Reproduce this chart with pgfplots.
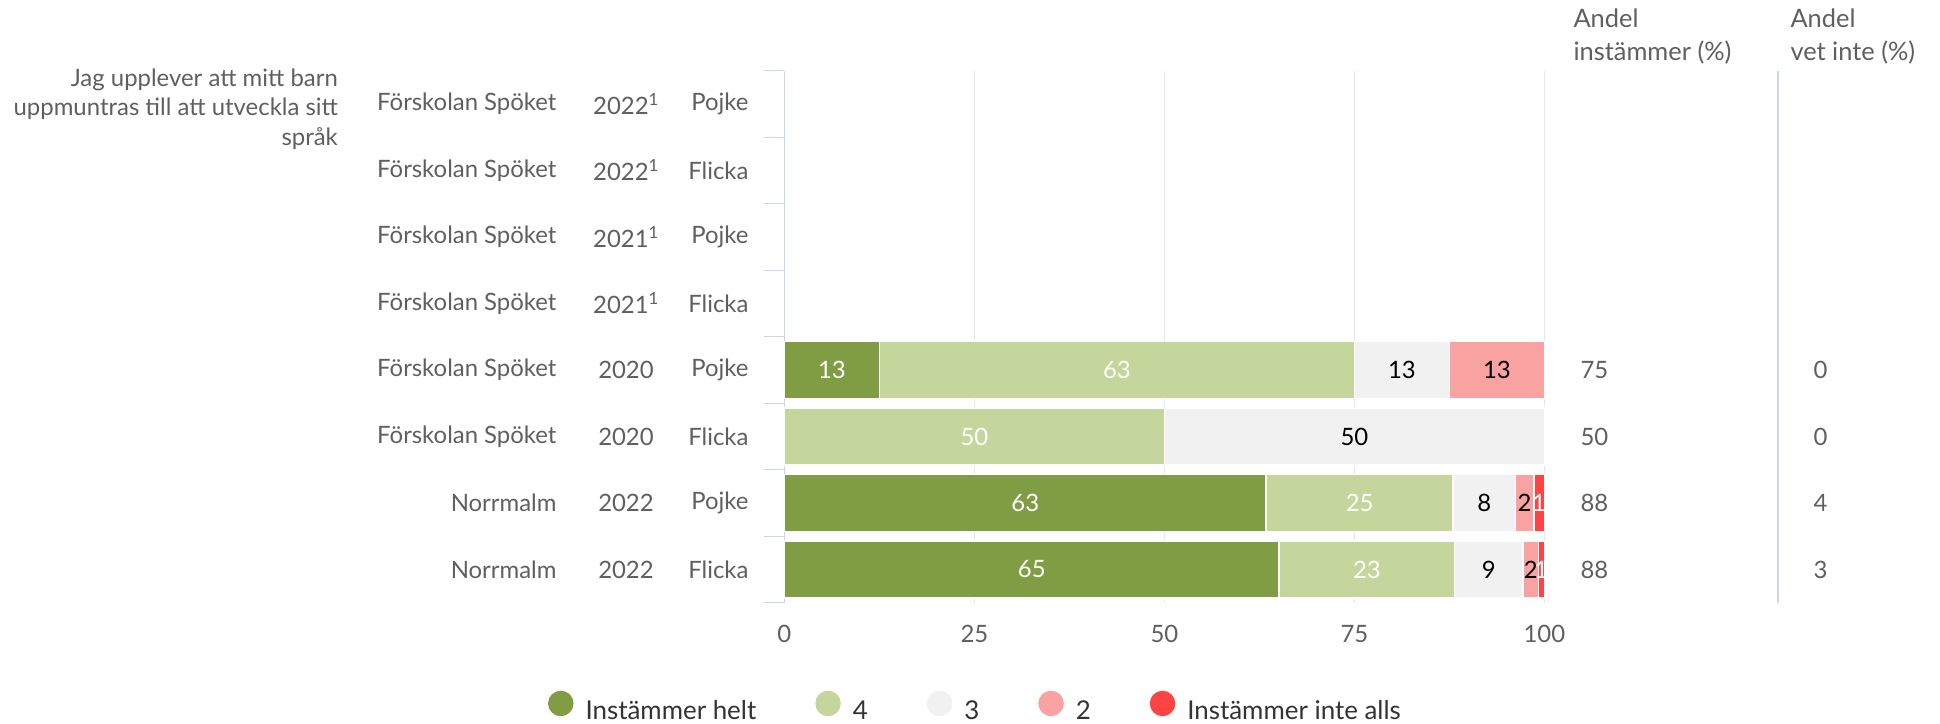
\documentclass[border=0pt]{standalone}
\usepackage{fontspec}
\setmainfont{Lato}
\usepackage{pgfplots}
\pgfplotsset{compat=1.18}
\definecolor{cA}{HTML}{819D43}
\definecolor{cB}{HTML}{C4D69C}
\definecolor{cC}{HTML}{F1F1F1}
\definecolor{cD}{HTML}{F9A2A2}
\definecolor{cE}{HTML}{FF4343}
\definecolor{axblue}{HTML}{CCD6EB}
\definecolor{gridc}{HTML}{E6E6E6}
\definecolor{txt}{HTML}{5F5F5F}
\definecolor{legtxt}{HTML}{333333}
\definecolor{zerogray}{HTML}{C4C4C4}
\newcommand{\fs}{\fontsize{24}{29.7}\selectfont}
\begin{document}
\begin{tikzpicture}
\path[use as bounding box] (0bp,0bp) rectangle (1940bp,-724bp);
\begin{axis}[
  at={(784.4bp,-602.7bp)}, anchor=south west,
  scale only axis, width=760bp, height=532bp,
  xbar stacked, bar width=57bp,
  xmin=0, xmax=100, ymin=0.5, ymax=8.5,
  axis lines=left, axis line style={-},
  x axis line style={draw=none},
  y axis line style={draw=axblue, line width=1.3bp},
  xtick={0,25,50,75,100},
  xmajorgrids, grid style={draw=gridc, line width=1.3bp},
  ytick={0.5,1.5,2.5,3.5,4.5,5.5,6.5,7.5,8.5}, yticklabels={},
  tick align=outside, major tick length=20bp,
  ytick style={draw=axblue, line width=1.3bp},
  xtick style={draw=none},
  xticklabel style={font=\fs, text=txt, anchor=center, yshift=-11.5bp},
  /pgf/number format/assume math mode=true,
  clip=false,
  visualization depends on={value \thisrow{l} \as \lab},
  nodes near coords={\ifnum\lab=0 \textcolor{zerogray}{0}\else\lab\fi},
  every node near coord/.append style={anchor=center, font=\fs},
  legend columns=5,
  legend style={draw=none, fill=none, inner sep=0pt, outer sep=0pt,
    at={(-0.311,-0.1960)}, anchor=west, font=\fontsize{26}{30}\selectfont, text=legtxt,
    /tikz/every odd column/.append style={column sep=10bp},
    /tikz/every even column/.append style={column sep=57bp},
    /tikz/column 2/.append style={column sep=50bp}},
]
\addplot[fill=cA, draw=white, line width=1.5bp, every node near coord/.append style={text=white},
  legend image code/.code={\fill[cA] (12bp,7.5bp) circle (12bp);}]
  table[x=v, y=r] {
r v l
4 12.5 13
3 0 0
2 63.4 63
1 65.1 65
};
\addlegendentry{Instämmer helt}
\addplot[fill=cB, draw=white, line width=1.5bp, every node near coord/.append style={text=white},
  legend image code/.code={\fill[cB] (12bp,7.5bp) circle (12bp);}]
  table[x=v, y=r] {
r v l
4 62.5 63
3 50 50
2 24.6 25
1 23.1 23
};
\addlegendentry{4}
\addplot[fill=cC, draw=white, line width=1.5bp, every node near coord/.append style={text=black},
  legend image code/.code={\fill[cC] (12bp,7.5bp) circle (12bp);}]
  table[x=v, y=r] {
r v l
4 12.5 13
3 50 50
2 8.2 8
1 9.0 9
};
\addlegendentry{3}
\addplot[fill=cD, draw=white, line width=1.5bp, every node near coord/.append style={text=black},
  legend image code/.code={\fill[cD] (12bp,7.5bp) circle (12bp);}]
  table[x=v, y=r] {
r v l
4 12.5 13
3 0 0
2 2.4 2
1 2.0 2
};
\addlegendentry{2}
\addplot[fill=cE, draw=white, line width=1.5bp, every node near coord/.append style={text=white},
  legend image code/.code={\fill[cE] (12bp,7.5bp) circle (12bp);}]
  table[x=v, y=r] {
r v l
4 0 0
3 0 0
2 1.4 1
1 0.8 1
};
\addlegendentry{Instämmer inte alls}

% question text
\node[anchor=east, align=right, text=txt, font=\fs, xshift=-443bp, yshift=-5bp] at (axis cs:0,8) {Jag upplever att mitt barn\\uppmuntras till att utveckla sitt\\språk};
% school names
\node[anchor=east, text=txt, font=\fs, xshift=-224.4bp] at (axis cs:0,8) {Förskolan Spöket};
\node[anchor=east, text=txt, font=\fs, xshift=-224.4bp] at (axis cs:0,7) {Förskolan Spöket};
\node[anchor=east, text=txt, font=\fs, xshift=-224.4bp] at (axis cs:0,6) {Förskolan Spöket};
\node[anchor=east, text=txt, font=\fs, xshift=-224.4bp] at (axis cs:0,5) {Förskolan Spöket};
\node[anchor=east, text=txt, font=\fs, xshift=-224.4bp] at (axis cs:0,4) {Förskolan Spöket};
\node[anchor=east, text=txt, font=\fs, xshift=-224.4bp] at (axis cs:0,3) {Förskolan Spöket};
\node[anchor=east, text=txt, font=\fs, xshift=-224.4bp] at (axis cs:0,2) {Norrmalm};
\node[anchor=east, text=txt, font=\fs, xshift=-224.4bp] at (axis cs:0,1) {Norrmalm};
% years
\node[text=txt, font=\fs, xshift=-158.4bp] at (axis cs:0,8) {2022\textsuperscript{1}};
\node[text=txt, font=\fs, xshift=-158.4bp] at (axis cs:0,7) {2022\textsuperscript{1}};
\node[text=txt, font=\fs, xshift=-158.4bp] at (axis cs:0,6) {2021\textsuperscript{1}};
\node[text=txt, font=\fs, xshift=-158.4bp] at (axis cs:0,5) {2021\textsuperscript{1}};
\node[text=txt, font=\fs, xshift=-158.4bp] at (axis cs:0,4) {2020};
\node[text=txt, font=\fs, xshift=-158.4bp] at (axis cs:0,3) {2020};
\node[text=txt, font=\fs, xshift=-158.4bp] at (axis cs:0,2) {2022};
\node[text=txt, font=\fs, xshift=-158.4bp] at (axis cs:0,1) {2022};
% gender
\node[anchor=east, text=txt, font=\fs, xshift=-32.4bp] at (axis cs:0,8) {Pojke};
\node[anchor=east, text=txt, font=\fs, xshift=-32.4bp] at (axis cs:0,7) {Flicka};
\node[anchor=east, text=txt, font=\fs, xshift=-32.4bp] at (axis cs:0,6) {Pojke};
\node[anchor=east, text=txt, font=\fs, xshift=-32.4bp] at (axis cs:0,5) {Flicka};
\node[anchor=east, text=txt, font=\fs, xshift=-32.4bp] at (axis cs:0,4) {Pojke};
\node[anchor=east, text=txt, font=\fs, xshift=-32.4bp] at (axis cs:0,3) {Flicka};
\node[anchor=east, text=txt, font=\fs, xshift=-32.4bp] at (axis cs:0,2) {Pojke};
\node[anchor=east, text=txt, font=\fs, xshift=-32.4bp] at (axis cs:0,1) {Flicka};
% headers
\node[anchor=west, align=left, text=txt, font=\fontsize{25.5}{33}\selectfont, xshift=25.6bp, yshift=34.2bp] at (axis cs:100,8.5) {Andel\\instämmer (\%)};
\node[anchor=west, align=left, text=txt, font=\fontsize{25.5}{33}\selectfont, xshift=242.6bp, yshift=34.2bp] at (axis cs:100,8.5) {Andel\\vet inte (\%)};
% separator
\draw[axblue, line width=1.3bp] ([xshift=233.6bp]axis cs:100,0.5) -- ([xshift=233.6bp]axis cs:100,8.5);
% side columns
\node[anchor=west, text=txt, font=\fs, xshift=32.6bp] at (axis cs:100,4) {75};
\node[anchor=west, text=txt, font=\fs, xshift=32.6bp] at (axis cs:100,3) {50};
\node[anchor=west, text=txt, font=\fs, xshift=32.6bp] at (axis cs:100,2) {88};
\node[anchor=west, text=txt, font=\fs, xshift=32.6bp] at (axis cs:100,1) {88};
\node[anchor=west, text=txt, font=\fs, xshift=265.6bp] at (axis cs:100,4) {0};
\node[anchor=west, text=txt, font=\fs, xshift=265.6bp] at (axis cs:100,3) {0};
\node[anchor=west, text=txt, font=\fs, xshift=265.6bp] at (axis cs:100,2) {4};
\node[anchor=west, text=txt, font=\fs, xshift=265.6bp] at (axis cs:100,1) {3};
\end{axis}
\end{tikzpicture}
\end{document}
